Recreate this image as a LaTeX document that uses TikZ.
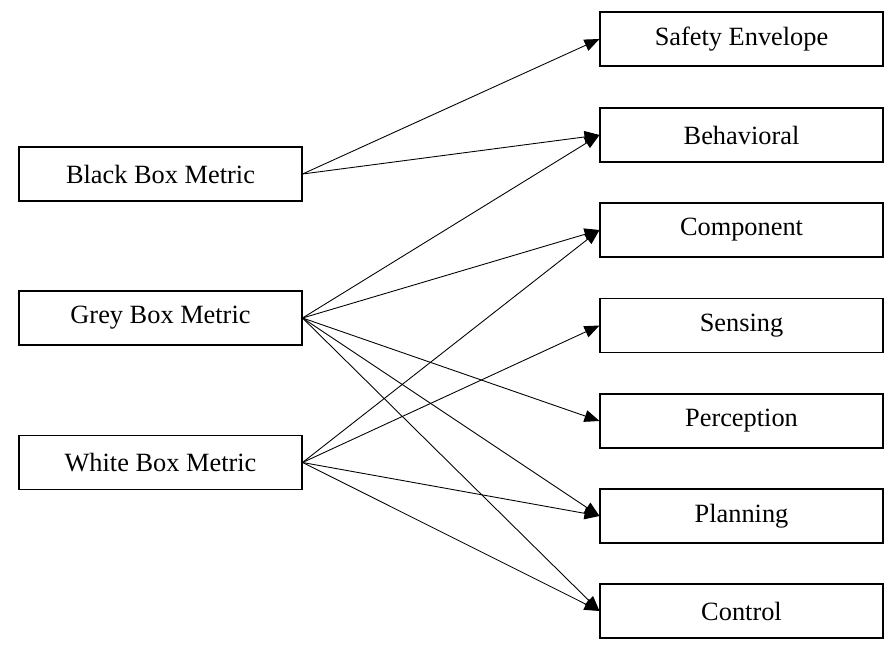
\documentclass[tikz,border=0pt]{standalone}
\usepackage{fontspec}
\setmainfont{Liberation Serif}
\usetikzlibrary{arrows.meta}

\begin{document}
\begin{tikzpicture}[
  metricbox/.style={draw, line width=0.6pt, minimum width=5.66cm, minimum height=1.08cm, font=\fontsize{15}{18}\selectfont},
  link/.style={line width=0.5pt, -{Triangle[length=0.3cm,width=0.24cm]}}]
\useasboundingbox (0,0) rectangle (17.88,13.02);

\node[metricbox] (black) at (3.21, 9.54) {Black Box Metric};
\node[metricbox] (grey)  at (3.21, 6.66) {Grey Box Metric};
\node[metricbox] (white) at (3.21, 3.77) {White Box Metric};

\node[metricbox] (safety)     at (14.83, 12.24) {Safety Envelope};
\node[metricbox] (behavioral) at (14.83, 10.32) {Behavioral};
\node[metricbox] (component)  at (14.83, 8.42) {Component};
\node[metricbox] (sensing)    at (14.83, 6.51) {Sensing};
\node[metricbox] (perception) at (14.83, 4.60) {Perception};
\node[metricbox] (planning)   at (14.83, 2.70) {Planning};
\node[metricbox] (control)    at (14.83, 0.80) {Control};

\foreach \t in {safety, behavioral}
  \draw[link] (black.east) -- (\t.west);
\foreach \t in {behavioral, component, perception, planning, control}
  \draw[link] (grey.east) -- (\t.west);
\foreach \t in {component, sensing, planning, control}
  \draw[link] (white.east) -- (\t.west);
\end{tikzpicture}
\end{document}
